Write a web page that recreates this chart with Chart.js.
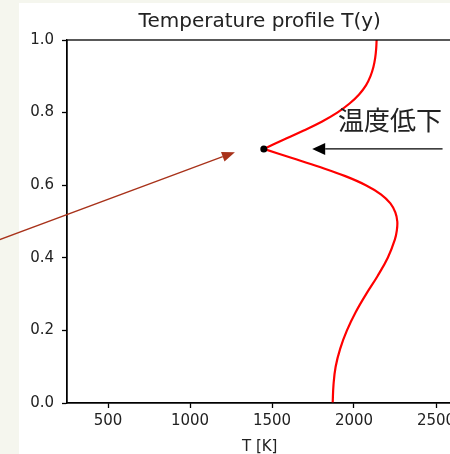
<!DOCTYPE html>
<html>
<head>
<meta charset="utf-8">
<script src="https://cdn.jsdelivr.net/npm/chart.js@4/dist/chart.umd.min.js"></script>
<style>
  html, body { margin: 0; padding: 0; overflow: hidden; background: #ffffff; }
  #wrap { position: relative; width: 450px; height: 454px; overflow: hidden; }
  #tempChart { position: absolute; left: 0; top: 0; }
</style>
</head>
<body>
<div id="wrap"><canvas id="tempChart" width="470" height="454"></canvas></div>
<script>
"use strict";

// lower branch of the profile, from the wall up to the cusp
var yLower = [0.000, 0.050, 0.100, 0.150, 0.200, 0.250, 0.300, 0.350, 0.400, 0.450, 0.475, 0.500, 0.525, 0.550, 0.575, 0.600, 0.625, 0.650, 0.675, 0.700];
var tLower = [1870, 1875, 1888, 1916, 1957, 2010, 2074, 2144, 2206, 2249, 2261, 2264, 2252, 2222, 2164, 2072, 1947, 1792, 1622, 1450];

// upper branch, from the cusp to the top
var yUpper = [0.700, 0.725, 0.750, 0.775, 0.800, 0.825, 0.850, 0.875, 0.900, 0.925, 0.950, 0.975, 1.000];
var tUpper = [1450, 1570, 1690, 1803, 1898, 1973, 2031, 2073, 2100, 2118, 2129, 2135, 2138];

// the marked point
var dotT = [1450];
var dotY = [0.70];

var xTicks = [500, 1000, 1500, 2000, 2500];
var yTicks = [0.0, 0.2, 0.4, 0.6, 0.8, 1.0];

var titleText = "Temperature profile T(y)";
var xLabel = "T [K]";
var noteText = "温度低下";

function toPoints(ts, ys) {
    var pts = [];
    for (var i = 0; i < ts.length; i++) {
        pts.push({ x: ts[i], y: ys[i] });
    }
    return pts;
}

function arrow(ctx, x0, y0, x1, y1, color, headLen, headHalf) {
    var ang = Math.atan2(y1 - y0, x1 - x0);
    var bx = x1 - headLen * Math.cos(ang);
    var by = y1 - headLen * Math.sin(ang);
    ctx.strokeStyle = color;
    ctx.fillStyle = color;
    ctx.lineWidth = 1.3;
    ctx.beginPath();
    ctx.moveTo(x0, y0);
    ctx.lineTo(bx, by);
    ctx.stroke();
    ctx.beginPath();
    ctx.moveTo(x1, y1);
    ctx.lineTo(bx + headHalf * Math.sin(ang), by - headHalf * Math.cos(ang));
    ctx.lineTo(bx - headHalf * Math.sin(ang), by + headHalf * Math.cos(ang));
    ctx.closePath();
    ctx.fill();
}

// background strip on the left edge plus frame and annotations
var extras = {
    id: "extras",
    beforeDraw: function(chart) {
        var ctx = chart.ctx;
        ctx.save();
        ctx.fillStyle = "#f5f6ee";
        ctx.fillRect(0, 0, chart.width, chart.height);
        ctx.fillStyle = "#ffffff";
        ctx.fillRect(19, 3, chart.width - 19, chart.height - 3);
        ctx.restore();
    },
    afterDatasetsDraw: function(chart) {
        var ctx = chart.ctx;
        var xs = chart.scales.x, ys = chart.scales.y;
        var a = chart.chartArea;
        ctx.save();

        // full box around the axes
        ctx.strokeStyle = "#000000";
        ctx.lineWidth = 1.3;
        ctx.strokeRect(a.left, a.top, a.right - a.left, a.bottom - a.top);

        // black arrow pointing at the dip
        arrow(ctx, xs.getPixelForValue(2540), ys.getPixelForValue(0.70),
              xs.getPixelForValue(1745), ys.getPixelForValue(0.70), "#000000", 13, 6);

        ctx.fillStyle = "#222222";
        ctx.font = "26px 'Noto Sans CJK JP'";
        ctx.textAlign = "left";
        ctx.textBaseline = "middle";
        ctx.fillText(noteText, xs.getPixelForValue(1903), ys.getPixelForValue(0.78));

        // red arrow coming in from the left
        arrow(ctx, xs.getPixelForValue(-400), ys.getPixelForValue(0.41),
              xs.getPixelForValue(1274), ys.getPixelForValue(0.691), "#a8321a", 13, 5);

        ctx.restore();
    }
};

var ctx = document.getElementById("tempChart");

var lineStyle = {
    showLine: true,
    tension: 0.4,
    borderColor: "#ff0000",
    borderWidth: 2.2,
    pointRadius: 0,
    order: 1
};

var myChart = new Chart(ctx, {
    type: "scatter",
    data: {
        datasets: [
            {
                label: "point",
                data: toPoints(dotT, dotY),
                pointRadius: 3.5,
                pointBackgroundColor: "#000000",
                pointBorderWidth: 0,
                showLine: false,
                order: 0
            },
            Object.assign({ label: "lower", data: toPoints(tLower, yLower) }, lineStyle),
            Object.assign({ label: "upper", data: toPoints(tUpper, yUpper) }, lineStyle)
        ]
    },
    options: {
        responsive: false,
        animation: false,
        layout: { padding: { left: 0, top: 0, right: 17.6, bottom: 0 } },
        plugins: {
            legend: { display: false },
            tooltip: { enabled: false },
            title: {
                display: true,
                text: titleText,
                fullSize: false,
                color: "#222222",
                font: { family: "'DejaVu Sans'", size: 20, weight: "normal", lineHeight: 1.2 },
                padding: { top: 10, bottom: 6 }
            }
        },
        scales: {
            x: {
                type: "linear",
                min: 250,
                max: 2600,
                afterFit: function(scale) { scale.height = 51; },
                afterBuildTicks: function(scale) {
                    scale.ticks = xTicks.map(function(v) { return { value: v }; });
                },
                grid: { display: true, drawOnChartArea: false, drawTicks: true, tickLength: 5, tickWidth: 1.3, tickColor: "#000000" },
                border: { display: true, color: "#000000", width: 1.3 },
                ticks: {
                    color: "#222222",
                    padding: 4,
                    maxRotation: 0,
                    font: { family: "'DejaVu Sans'", size: 15 },
                    callback: function(v) { return String(v); }
                },
                title: {
                    display: true,
                    text: xLabel,
                    color: "#222222",
                    font: { family: "'DejaVu Sans'", size: 15 },
                    padding: { top: 0, bottom: -2 }
                }
            },
            y: {
                type: "linear",
                min: 0,
                max: 1,
                afterFit: function(scale) { scale.width = 67; },
                afterBuildTicks: function(scale) {
                    scale.ticks = yTicks.map(function(v) { return { value: v }; });
                },
                grid: { display: true, drawOnChartArea: false, drawTicks: true, tickLength: 5, tickWidth: 1.3, tickColor: "#000000" },
                border: { display: true, color: "#000000", width: 1.3 },
                ticks: {
                    color: "#222222",
                    padding: 8,
                    font: { family: "'DejaVu Sans'", size: 15 },
                    callback: function(v) { return Number(v).toFixed(1); }
                }
            }
        }
    },
    plugins: [extras]
});
</script>
</body>
</html>
